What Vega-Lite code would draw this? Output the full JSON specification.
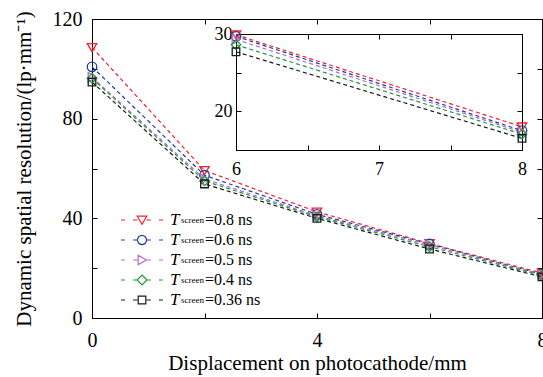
{
  "$schema": "https://vega.github.io/schema/vega-lite/v6.json",
  "width": 450,
  "height": 299,
  "autosize": "none",
  "padding": {"left": 92, "top": 19, "right": 1, "bottom": 59},
  "background": "white",
  "config": {
    "view": {"stroke": null},
    "font": "Liberation Serif",
    "axis": {
      "grid": false,
      "domainColor": "#000000",
      "domainWidth": 1,
      "tickColor": "#000000",
      "tickWidth": 1,
      "tickSize": -5,
      "labelColor": "#000000",
      "labelFont": "Liberation Serif",
      "titleFont": "Liberation Serif",
      "titleColor": "#000000",
      "titleFontWeight": "normal",
      "labelFlush": false,
      "labelOverlap": false
    },
    "legend": {
      "labelFont": "Liberation Serif",
      "labelColor": "#000000"
    }
  },
  "datasets": {
    "d": [
      {"x": 0, "y": 108.6, "s": "0.8 ns"},
      {"x": 2, "y": 59.2, "s": "0.8 ns"},
      {"x": 4, "y": 42.6, "s": "0.8 ns"},
      {"x": 6, "y": 29.9, "s": "0.8 ns"},
      {"x": 8, "y": 18.0, "s": "0.8 ns"},
      {"x": 0, "y": 100.8, "s": "0.6 ns"},
      {"x": 2, "y": 57.3, "s": "0.6 ns"},
      {"x": 4, "y": 41.6, "s": "0.6 ns"},
      {"x": 6, "y": 29.7, "s": "0.6 ns"},
      {"x": 8, "y": 17.5, "s": "0.6 ns"},
      {"x": 0, "y": 96.6, "s": "0.5 ns"},
      {"x": 2, "y": 55.8, "s": "0.5 ns"},
      {"x": 4, "y": 41.0, "s": "0.5 ns"},
      {"x": 6, "y": 29.3, "s": "0.5 ns"},
      {"x": 8, "y": 17.3, "s": "0.5 ns"},
      {"x": 0, "y": 96.2, "s": "0.4 ns"},
      {"x": 2, "y": 55.0, "s": "0.4 ns"},
      {"x": 4, "y": 40.6, "s": "0.4 ns"},
      {"x": 6, "y": 28.6, "s": "0.4 ns"},
      {"x": 8, "y": 17.05, "s": "0.4 ns"},
      {"x": 0, "y": 94.7, "s": "0.36 ns"},
      {"x": 2, "y": 53.8, "s": "0.36 ns"},
      {"x": 4, "y": 40.0, "s": "0.36 ns"},
      {"x": 6, "y": 27.7, "s": "0.36 ns"},
      {"x": 8, "y": 16.5, "s": "0.36 ns"}
    ]
  },
  "layer": [
    {
      "data": {"name": "d"},
      "encoding": {
        "x": {"field": "x", "type": "quantitative",
          "scale": {"domain": [0, 8], "nice": false, "zero": false},
          "axis": {"orient": "bottom", "values": [0, 2, 4, 6, 8],
            "labelExpr": "datum.value % 4 == 0 ? datum.label : ''",
            "labelFontSize": 20, "labelPadding": 17,
            "title": "Displacement on photocathode/mm", "titleFontSize": 21, "titlePadding": 2}},
        "y": {"field": "y", "type": "quantitative",
          "scale": {"domain": [0, 120], "nice": false},
          "axis": {"orient": "left", "values": [0, 20, 40, 60, 80, 100, 120],
            "labelExpr": "datum.value % 40 == 0 ? datum.label : ''",
            "labelFontSize": 20, "labelPadding": 15,
            "title": "Dynamic spatial resolution/(lp·mm⁻¹)", "titleFontSize": 21, "titlePadding": 18}},
        "color": {"field": "s", "type": "nominal",
          "scale": {"domain": ["0.8 ns", "0.6 ns", "0.5 ns", "0.4 ns", "0.36 ns"],
            "range": ["#f5222d", "#1e3f9e", "#b36ac9", "#1f9a3a", "#1a1a1a"]},
          "legend": null}
      },
      "layer": [
        {"mark": {"type": "line", "strokeDash": [4, 3], "strokeWidth": 1.2}},
        {"mark": {"type": "point", "filled": false, "size": 90, "strokeWidth": 1.3, "opacity": 1},
          "encoding": {"shape": {"field": "s", "type": "nominal",
            "scale": {"domain": ["0.8 ns", "0.6 ns", "0.5 ns", "0.4 ns", "0.36 ns"],
              "range": [
                "M -1 -0.8 L 1 -0.8 L 0 0.9 Z",
                "M 1 0 C 1 0.5523 0.5523 1 0 1 C -0.5523 1 -1 0.5523 -1 0 C -1 -0.5523 -0.5523 -1 0 -1 C 0.5523 -1 1 -0.5523 1 0 Z",
                "M -0.8 -1 L 0.9 0 L -0.8 1 Z",
                "M 0 -1 L 1 0 L 0 1 L -1 0 Z",
                "M -0.8 -0.8 L 0.8 -0.8 L 0.8 0.8 L -0.8 0.8 Z"]},
            "legend": null}}}
      ]
    },
    {
      "data": {"name": "d"},
      "mark": {"type": "point", "opacity": 0},
      "encoding": {
        "x": {"field": "x", "type": "quantitative",
          "scale": {"domain": [0, 8], "nice": false, "zero": false},
          "axis": {"orient": "top", "values": [0, 2, 4, 6, 8], "labels": false, "title": null}},
        "y": {"field": "y", "type": "quantitative",
          "scale": {"domain": [0, 120], "nice": false},
          "axis": {"orient": "right", "values": [0, 20, 40, 60, 80, 100, 120], "labels": false, "title": null}}
      }
    },
    {
      "data": {"name": "d"},
      "transform": [{"filter": "datum.x >= 6"}],
      "encoding": {
        "x": {"field": "x", "type": "quantitative",
          "scale": {"domain": [6, 8], "nice": false, "zero": false, "range": [144, 430]},
          "axis": {"orient": "bottom", "offset": -168, "values": [6, 6.5, 7, 7.5, 8],
            "labelExpr": "datum.value % 1 == 0 ? format(datum.value, 'd') : ''",
            "labelFontSize": 18, "labelPadding": 15, "title": null}},
        "y": {"field": "y", "type": "quantitative",
          "scale": {"domain": [15, 30], "nice": false, "zero": false, "range": [131, 15]},
          "axis": {"orient": "left", "offset": -144, "values": [15, 20, 25, 30],
            "labelExpr": "datum.value % 10 == 0 ? format(datum.value, 'd') : ''",
            "labelFontSize": 18, "labelPadding": 9, "title": null}},
        "color": {"field": "s", "type": "nominal",
          "scale": {"domain": ["0.8 ns", "0.6 ns", "0.5 ns", "0.4 ns", "0.36 ns"],
            "range": ["#f5222d", "#1e3f9e", "#b36ac9", "#1f9a3a", "#1a1a1a"]},
          "legend": null}
      },
      "layer": [
        {"mark": {"type": "line", "strokeDash": [4, 3], "strokeWidth": 1.2}},
        {"mark": {"type": "point", "filled": false, "size": 90, "strokeWidth": 1.3, "opacity": 1},
          "encoding": {"shape": {"field": "s", "type": "nominal",
            "scale": {"domain": ["0.8 ns", "0.6 ns", "0.5 ns", "0.4 ns", "0.36 ns"],
              "range": [
                "M -1 -0.8 L 1 -0.8 L 0 0.9 Z",
                "M 1 0 C 1 0.5523 0.5523 1 0 1 C -0.5523 1 -1 0.5523 -1 0 C -1 -0.5523 -0.5523 -1 0 -1 C 0.5523 -1 1 -0.5523 1 0 Z",
                "M -0.8 -1 L 0.9 0 L -0.8 1 Z",
                "M 0 -1 L 1 0 L 0 1 L -1 0 Z",
                "M -0.8 -0.8 L 0.8 -0.8 L 0.8 0.8 L -0.8 0.8 Z"]},
            "legend": null}}}
      ]
    },
    {
      "data": {"name": "d"},
      "transform": [{"filter": "datum.x >= 6"}],
      "mark": {"type": "point", "opacity": 0},
      "encoding": {
        "x": {"field": "x", "type": "quantitative",
          "scale": {"domain": [6, 8], "nice": false, "zero": false, "range": [144, 430]},
          "axis": {"orient": "top", "offset": -15, "values": [6, 6.5, 7, 7.5, 8], "labels": false, "title": null}},
        "y": {"field": "y", "type": "quantitative",
          "scale": {"domain": [15, 30], "nice": false, "zero": false, "range": [131, 15]},
          "axis": {"orient": "right", "offset": -20, "values": [15, 20, 25, 30], "labels": false, "title": null}}
      }
    },
    {
      "data": {"name": "d"},
      "transform": [{"filter": "datum.x < 0"}],
      "mark": {"type": "point", "filled": false, "strokeWidth": 1.2, "opacity": 1},
      "encoding": {
        "color": {"field": "s", "type": "nominal",
          "scale": {"domain": ["0.8 ns", "0.6 ns", "0.5 ns", "0.4 ns", "0.36 ns"],
            "range": ["#f5222d", "#1e3f9e", "#b36ac9", "#1f9a3a", "#1a1a1a"]},
          "legend": {"title": null, "orient": "none", "legendX": 41, "legendY": 192, "padding": 0,
            "symbolSize": 250, "symbolStrokeWidth": 1.2, "symbolOpacity": 1, "labelOffset": 19, "labelFontSize": 17,
            "labelFontStyle": "italic", "rowPadding": -8, "labelExpr": "'T'"}},
        "shape": {"field": "s", "type": "nominal",
          "scale": {"domain": ["0.8 ns", "0.6 ns", "0.5 ns", "0.4 ns", "0.36 ns"],
            "range": [
              "M 0 -1 M 0 1 M -2.66 0 L -2.15 0 M -1.13 0 L -0.57 0 M 0.57 0 L 1.13 0 M 2.15 0 L 2.66 0 M -0.6 -0.48 L 0.6 -0.48 L 0 0.55 Z",
              "M 0 -1 M 0 1 M -2.66 0 L -2.15 0 M -1.13 0 L -0.57 0 M 0.57 0 L 1.13 0 M 2.15 0 L 2.66 0 M 0.573 0 C 0.573 0.316 0.316 0.573 0 0.573 C -0.316 0.573 -0.573 0.316 -0.573 0 C -0.573 -0.316 -0.316 -0.573 0 -0.573 C 0.316 -0.573 0.573 -0.316 0.573 0 Z",
              "M 0 -1 M 0 1 M -2.66 0 L -2.15 0 M -1.13 0 L -0.57 0 M 0.57 0 L 1.13 0 M 2.15 0 L 2.66 0 M -0.48 -0.6 L 0.55 0 L -0.48 0.6 Z",
              "M 0 -1 M 0 1 M -2.66 0 L -2.15 0 M -1.13 0 L -0.57 0 M 0.57 0 L 1.13 0 M 2.15 0 L 2.66 0 M 0 -0.63 L 0.63 0 L 0 0.63 L -0.63 0 Z",
              "M 0 -1 M 0 1 M -2.66 0 L -2.15 0 M -1.13 0 L -0.57 0 M 0.57 0 L 1.13 0 M 2.15 0 L 2.66 0 M -0.48 -0.48 L 0.48 -0.48 L 0.48 0.48 L -0.48 0.48 Z"]},
          "legend": {"title": null, "orient": "none", "legendX": 41, "legendY": 192, "padding": 0,
            "symbolSize": 250, "symbolStrokeWidth": 1.2, "symbolOpacity": 1, "labelOffset": 19, "labelFontSize": 17,
            "labelFontStyle": "italic", "rowPadding": -8, "labelExpr": "'T'"}}
      }
    },
    {
      "data": {"name": "d"},
      "transform": [{"filter": "datum.x < 0"}],
      "mark": {"type": "point", "filled": false, "color": "transparent", "strokeWidth": 1.2, "opacity": 1},
      "encoding": {
        "shape": {"field": "s", "type": "nominal",
          "scale": {"domain": ["0.8 ns", "0.6 ns", "0.5 ns", "0.4 ns", "0.36 ns"],
            "range": [
              "M 0 -1 M 0 1 M -2.66 0 L -2.15 0 M -1.13 0 L -0.57 0 M 0.57 0 L 1.13 0 M 2.15 0 L 2.66 0 M -0.6 -0.48 L 0.6 -0.48 L 0 0.55 Z",
              "M 0 -1 M 0 1 M -2.66 0 L -2.15 0 M -1.13 0 L -0.57 0 M 0.57 0 L 1.13 0 M 2.15 0 L 2.66 0 M 0.573 0 C 0.573 0.316 0.316 0.573 0 0.573 C -0.316 0.573 -0.573 0.316 -0.573 0 C -0.573 -0.316 -0.316 -0.573 0 -0.573 C 0.316 -0.573 0.573 -0.316 0.573 0 Z",
              "M 0 -1 M 0 1 M -2.66 0 L -2.15 0 M -1.13 0 L -0.57 0 M 0.57 0 L 1.13 0 M 2.15 0 L 2.66 0 M -0.48 -0.6 L 0.55 0 L -0.48 0.6 Z",
              "M 0 -1 M 0 1 M -2.66 0 L -2.15 0 M -1.13 0 L -0.57 0 M 0.57 0 L 1.13 0 M 2.15 0 L 2.66 0 M 0 -0.63 L 0.63 0 L 0 0.63 L -0.63 0 Z",
              "M 0 -1 M 0 1 M -2.66 0 L -2.15 0 M -1.13 0 L -0.57 0 M 0.57 0 L 1.13 0 M 2.15 0 L 2.66 0 M -0.48 -0.48 L 0.48 -0.48 L 0.48 0.48 L -0.48 0.48 Z"]},
          "legend": {"title": null, "orient": "none", "legendX": 61, "legendY": 192, "padding": 0,
            "symbolSize": 250, "symbolStrokeWidth": 1.2, "symbolStrokeColor": "transparent",
            "symbolFillColor": "transparent", "symbolOpacity": 1, "labelOffset": 10, "labelFontSize": 9,
            "rowPadding": -8, "labelExpr": "'screen'",
            "encode": {"labels": {"update": {"dy": {"value": 6}}}}}}
      }
    },
    {
      "data": {"name": "d"},
      "transform": [{"filter": "datum.x < 0"}],
      "mark": {"type": "point", "filled": false, "color": "transparent", "strokeWidth": 1.2, "opacity": 1},
      "encoding": {
        "shape": {"field": "s", "type": "nominal",
          "scale": {"domain": ["0.8 ns", "0.6 ns", "0.5 ns", "0.4 ns", "0.36 ns"],
            "range": [
              "M 0 -1 M 0 1 M -2.66 0 L -2.15 0 M -1.13 0 L -0.57 0 M 0.57 0 L 1.13 0 M 2.15 0 L 2.66 0 M -0.6 -0.48 L 0.6 -0.48 L 0 0.55 Z",
              "M 0 -1 M 0 1 M -2.66 0 L -2.15 0 M -1.13 0 L -0.57 0 M 0.57 0 L 1.13 0 M 2.15 0 L 2.66 0 M 0.573 0 C 0.573 0.316 0.316 0.573 0 0.573 C -0.316 0.573 -0.573 0.316 -0.573 0 C -0.573 -0.316 -0.316 -0.573 0 -0.573 C 0.316 -0.573 0.573 -0.316 0.573 0 Z",
              "M 0 -1 M 0 1 M -2.66 0 L -2.15 0 M -1.13 0 L -0.57 0 M 0.57 0 L 1.13 0 M 2.15 0 L 2.66 0 M -0.48 -0.6 L 0.55 0 L -0.48 0.6 Z",
              "M 0 -1 M 0 1 M -2.66 0 L -2.15 0 M -1.13 0 L -0.57 0 M 0.57 0 L 1.13 0 M 2.15 0 L 2.66 0 M 0 -0.63 L 0.63 0 L 0 0.63 L -0.63 0 Z",
              "M 0 -1 M 0 1 M -2.66 0 L -2.15 0 M -1.13 0 L -0.57 0 M 0.57 0 L 1.13 0 M 2.15 0 L 2.66 0 M -0.48 -0.48 L 0.48 -0.48 L 0.48 0.48 L -0.48 0.48 Z"]},
          "legend": {"title": null, "orient": "none", "legendX": 89, "legendY": 192, "padding": 0,
            "symbolSize": 250, "symbolStrokeWidth": 1.2, "symbolStrokeColor": "transparent",
            "symbolFillColor": "transparent", "symbolOpacity": 1, "labelOffset": 6, "labelFontSize": 16,
            "rowPadding": -8, "labelExpr": "'=' + datum.label"}}
      }
    }
  ],
  "resolve": {
    "scale": {"x": "independent", "y": "independent", "color": "independent", "shape": "independent"},
    "axis": {"x": "independent", "y": "independent"}
  }
}
